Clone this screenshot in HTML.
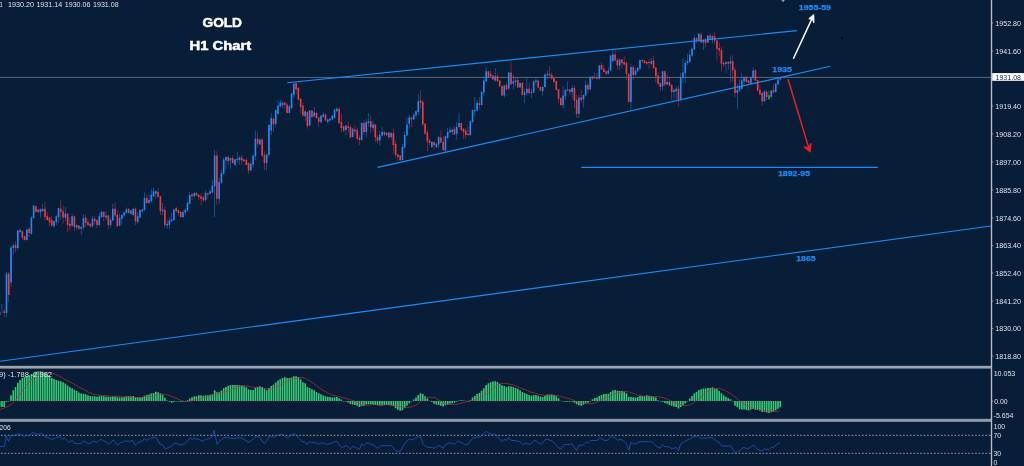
<!DOCTYPE html>
<html lang="en">
<head>
<meta charset="utf-8">
<title>GOLD H1 Chart</title>
<style>
html,body{margin:0;padding:0;background:#081d38;}
body{width:1024px;height:466px;overflow:hidden;font-family:"Liberation Sans",sans-serif;}
svg{display:block;}
</style>
</head>
<body>
<svg width="1024" height="466" viewBox="0 0 1024 466">
<rect width="1024" height="466" fill="#081d38"/>
<g id="priceline">
<rect x="0" y="76.9" width="991" height="1" fill="#5d667a"/>
</g>
<g id="candles">
<path d="M-0.59 311.88h0.6V315.00h-0.6zM6.20 271.88h0.6V317.25h-0.6zM10.72 245.62h0.6V286.88h-0.6zM12.99 243.12h0.6V254.38h-0.6zM17.51 230.00h0.6V250.00h-0.6zM19.78 228.75h0.6V233.75h-0.6zM26.56 228.75h0.6V240.25h-0.6zM31.09 216.25h0.6V234.38h-0.6zM33.35 205.00h0.6V218.75h-0.6zM40.14 208.50h0.6V218.12h-0.6zM42.40 203.75h0.6V211.88h-0.6zM53.71 220.62h0.6V228.12h-0.6zM55.98 215.00h0.6V225.00h-0.6zM58.24 207.50h0.6V223.12h-0.6zM65.03 206.88h0.6V221.25h-0.6zM71.81 213.75h0.6V226.88h-0.6zM76.34 224.38h0.6V230.00h-0.6zM80.86 226.25h0.6V235.00h-0.6zM83.12 213.75h0.6V230.00h-0.6zM92.17 216.25h0.6V227.50h-0.6zM98.96 213.12h0.6V226.25h-0.6zM101.23 210.62h0.6V218.12h-0.6zM105.75 211.25h0.6V220.00h-0.6zM110.28 217.50h0.6V227.50h-0.6zM112.54 203.75h0.6V221.25h-0.6zM119.33 213.75h0.6V226.25h-0.6zM121.59 214.38h0.6V224.38h-0.6zM123.85 211.25h0.6V216.88h-0.6zM126.11 207.50h0.6V213.75h-0.6zM130.64 210.00h0.6V214.38h-0.6zM132.90 208.12h0.6V215.62h-0.6zM137.42 212.50h0.6V223.75h-0.6zM139.69 209.38h0.6V218.12h-0.6zM141.95 208.75h0.6V213.12h-0.6zM144.21 192.50h0.6V211.25h-0.6zM148.74 195.00h0.6V203.75h-0.6zM151.00 188.75h0.6V202.50h-0.6zM153.26 187.50h0.6V196.88h-0.6zM155.53 190.00h0.6V198.75h-0.6zM162.31 203.12h0.6V215.00h-0.6zM166.84 220.00h0.6V228.75h-0.6zM169.10 217.50h0.6V228.75h-0.6zM171.36 213.12h0.6V221.88h-0.6zM173.62 208.75h0.6V221.25h-0.6zM182.67 210.00h0.6V218.12h-0.6zM184.94 208.12h0.6V215.00h-0.6zM187.20 201.25h0.6V211.88h-0.6zM189.46 191.88h0.6V204.38h-0.6zM193.99 191.88h0.6V197.50h-0.6zM205.30 190.62h0.6V201.88h-0.6zM209.82 188.75h0.6V194.38h-0.6zM212.09 179.38h0.6V193.12h-0.6zM214.35 150.00h0.6V216.88h-0.6zM218.88 177.50h0.6V203.75h-0.6zM221.14 170.00h0.6V183.75h-0.6zM223.40 157.50h0.6V174.38h-0.6zM225.66 156.25h0.6V170.00h-0.6zM230.19 157.50h0.6V168.75h-0.6zM234.71 158.75h0.6V165.62h-0.6zM236.97 151.88h0.6V162.50h-0.6zM239.24 156.25h0.6V164.38h-0.6zM250.55 161.25h0.6V171.25h-0.6zM252.81 155.00h0.6V167.50h-0.6zM255.08 130.62h0.6V160.00h-0.6zM259.60 138.75h0.6V145.00h-0.6zM266.39 153.75h0.6V170.62h-0.6zM268.65 124.38h0.6V156.88h-0.6zM270.91 113.12h0.6V135.00h-0.6zM275.44 109.38h0.6V127.50h-0.6zM277.70 100.00h0.6V115.00h-0.6zM279.96 100.00h0.6V108.12h-0.6zM282.23 100.62h0.6V108.12h-0.6zM289.01 105.00h0.6V113.75h-0.6zM291.28 93.12h0.6V109.38h-0.6zM293.54 83.12h0.6V98.12h-0.6zM304.85 110.62h0.6V121.25h-0.6zM309.38 110.00h0.6V126.25h-0.6zM313.90 106.88h0.6V116.88h-0.6zM320.69 115.00h0.6V123.75h-0.6zM322.95 111.88h0.6V117.50h-0.6zM327.48 118.75h0.6V123.12h-0.6zM329.74 118.12h0.6V121.25h-0.6zM332.00 115.00h0.6V120.00h-0.6zM334.26 108.75h0.6V118.75h-0.6zM336.53 106.88h0.6V111.88h-0.6zM345.58 125.00h0.6V135.00h-0.6zM352.36 128.12h0.6V137.50h-0.6zM361.41 122.50h0.6V140.62h-0.6zM365.94 118.75h0.6V137.50h-0.6zM368.20 113.12h0.6V126.88h-0.6zM372.73 121.25h0.6V131.25h-0.6zM379.51 131.25h0.6V145.62h-0.6zM381.78 126.88h0.6V136.25h-0.6zM386.30 131.88h0.6V136.25h-0.6zM390.83 131.88h0.6V139.38h-0.6zM402.14 143.75h0.6V160.62h-0.6zM404.40 131.88h0.6V148.12h-0.6zM406.66 117.50h0.6V136.25h-0.6zM408.93 115.00h0.6V129.38h-0.6zM413.45 113.12h0.6V120.00h-0.6zM415.71 110.00h0.6V117.50h-0.6zM417.98 94.38h0.6V115.00h-0.6zM431.55 141.25h0.6V148.12h-0.6zM436.08 143.12h0.6V148.12h-0.6zM438.34 136.25h0.6V148.12h-0.6zM445.13 135.62h0.6V151.88h-0.6zM447.39 128.12h0.6V138.75h-0.6zM449.65 126.88h0.6V133.12h-0.6zM451.91 128.75h0.6V135.00h-0.6zM456.44 122.50h0.6V139.38h-0.6zM458.70 113.12h0.6V127.50h-0.6zM470.01 120.62h0.6V136.25h-0.6zM472.28 109.38h0.6V123.12h-0.6zM474.54 96.88h0.6V116.25h-0.6zM476.80 100.00h0.6V111.25h-0.6zM481.33 91.25h0.6V105.62h-0.6zM483.59 76.25h0.6V95.62h-0.6zM485.85 67.50h0.6V81.88h-0.6zM494.90 68.12h0.6V81.88h-0.6zM503.95 85.00h0.6V97.50h-0.6zM508.48 71.88h0.6V89.38h-0.6zM513.00 74.38h0.6V89.38h-0.6zM515.26 78.12h0.6V86.25h-0.6zM519.79 82.50h0.6V88.12h-0.6zM524.31 88.75h0.6V103.00h-0.6zM526.58 77.50h0.6V95.62h-0.6zM531.10 88.75h0.6V98.12h-0.6zM533.36 80.62h0.6V93.12h-0.6zM535.63 77.50h0.6V85.00h-0.6zM542.41 86.25h0.6V95.62h-0.6zM544.68 73.75h0.6V87.50h-0.6zM546.94 70.62h0.6V79.38h-0.6zM562.78 86.25h0.6V108.12h-0.6zM565.04 89.38h0.6V100.00h-0.6zM567.30 81.25h0.6V91.25h-0.6zM571.83 85.00h0.6V98.12h-0.6zM578.61 94.38h0.6V118.00h-0.6zM583.14 94.38h0.6V107.50h-0.6zM585.40 80.62h0.6V96.25h-0.6zM589.93 76.25h0.6V90.62h-0.6zM594.45 72.50h0.6V78.75h-0.6zM598.98 65.00h0.6V79.38h-0.6zM608.03 66.88h0.6V74.38h-0.6zM610.29 55.00h0.6V71.25h-0.6zM612.55 50.62h0.6V61.88h-0.6zM619.34 58.75h0.6V70.00h-0.6zM630.65 63.75h0.6V110.00h-0.6zM635.18 68.12h0.6V75.62h-0.6zM637.44 66.25h0.6V72.50h-0.6zM639.70 59.38h0.6V70.00h-0.6zM651.01 58.12h0.6V64.38h-0.6zM662.33 70.62h0.6V90.00h-0.6zM666.85 73.75h0.6V85.00h-0.6zM673.64 88.12h0.6V98.75h-0.6zM675.90 86.25h0.6V99.38h-0.6zM680.43 73.12h0.6V100.62h-0.6zM682.69 58.12h0.6V83.12h-0.6zM684.95 60.00h0.6V83.12h-0.6zM687.21 53.75h0.6V65.00h-0.6zM689.48 50.00h0.6V62.50h-0.6zM691.74 48.12h0.6V56.88h-0.6zM694.00 35.00h0.6V50.00h-0.6zM698.53 33.12h0.6V42.50h-0.6zM703.05 39.38h0.6V50.00h-0.6zM707.58 35.00h0.6V43.12h-0.6zM712.10 35.00h0.6V43.12h-0.6zM725.68 61.25h0.6V73.12h-0.6zM730.20 56.25h0.6V82.50h-0.6zM736.99 83.75h0.6V108.75h-0.6zM739.25 79.38h0.6V91.88h-0.6zM741.51 72.50h0.6V89.38h-0.6zM743.78 76.25h0.6V84.38h-0.6zM750.56 76.88h0.6V84.38h-0.6zM752.83 67.50h0.6V79.38h-0.6zM764.14 90.62h0.6V101.88h-0.6zM770.93 90.00h0.6V97.50h-0.6zM775.45 83.12h0.6V92.50h-0.6zM777.71 78.75h0.6V85.00h-0.6zM779.98 76.88h0.6V80.62h-0.6z" fill="#2189f3" opacity="0.75"/>
<path d="M-1.11 311.88h1.64V315.00h-1.64zM5.68 273.75h1.64V313.12h-1.64zM10.21 247.50h1.64V282.50h-1.64zM12.47 245.62h1.64V248.12h-1.64zM16.99 230.62h1.64V248.12h-1.64zM19.26 230.00h1.64V231.88h-1.64zM26.04 229.38h1.64V240.00h-1.64zM30.57 217.50h1.64V233.75h-1.64zM32.83 205.62h1.64V218.12h-1.64zM39.62 209.00h1.64V211.88h-1.64zM41.88 208.75h1.64V211.25h-1.64zM53.19 221.25h1.64V226.25h-1.64zM55.46 216.25h1.64V221.88h-1.64zM57.72 208.12h1.64V216.88h-1.64zM64.51 213.75h1.64V217.50h-1.64zM71.29 216.25h1.64V225.62h-1.64zM75.82 225.00h1.64V227.50h-1.64zM80.34 226.88h1.64V228.75h-1.64zM82.61 218.12h1.64V227.50h-1.64zM91.66 218.75h1.64V226.25h-1.64zM98.44 216.25h1.64V225.00h-1.64zM100.71 211.88h1.64V216.88h-1.64zM105.23 215.62h1.64V217.50h-1.64zM109.76 220.00h1.64V225.00h-1.64zM112.02 208.75h1.64V220.62h-1.64zM118.81 218.12h1.64V225.62h-1.64zM121.07 215.00h1.64V218.75h-1.64zM123.33 212.50h1.64V215.62h-1.64zM125.59 209.38h1.64V213.12h-1.64zM130.12 210.62h1.64V213.75h-1.64zM132.38 208.75h1.64V215.00h-1.64zM136.91 216.25h1.64V221.88h-1.64zM139.17 210.00h1.64V217.50h-1.64zM141.43 209.38h1.64V211.25h-1.64zM143.69 198.12h1.64V210.00h-1.64zM148.22 200.00h1.64V203.12h-1.64zM150.48 194.38h1.64V201.25h-1.64zM152.74 191.25h1.64V196.25h-1.64zM155.01 191.25h1.64V193.75h-1.64zM161.79 209.38h1.64V211.25h-1.64zM166.32 223.75h1.64V225.62h-1.64zM168.58 220.62h1.64V225.00h-1.64zM170.84 219.38h1.64V221.25h-1.64zM173.11 209.38h1.64V220.00h-1.64zM182.16 211.88h1.64V216.88h-1.64zM184.42 210.00h1.64V212.50h-1.64zM186.68 203.12h1.64V210.62h-1.64zM188.94 195.00h1.64V203.75h-1.64zM193.47 193.12h1.64V196.25h-1.64zM204.78 193.12h1.64V200.00h-1.64zM209.31 191.25h1.64V193.75h-1.64zM211.57 185.62h1.64V192.50h-1.64zM213.83 155.62h1.64V186.25h-1.64zM218.36 181.88h1.64V198.75h-1.64zM220.62 173.12h1.64V182.50h-1.64zM222.88 159.38h1.64V173.75h-1.64zM225.14 156.88h1.64V160.62h-1.64zM229.67 158.12h1.64V160.62h-1.64zM234.19 159.38h1.64V165.00h-1.64zM236.46 158.75h1.64V160.00h-1.64zM238.72 157.50h1.64V160.00h-1.64zM250.03 163.75h1.64V170.62h-1.64zM252.29 155.62h1.64V164.38h-1.64zM254.56 138.75h1.64V156.25h-1.64zM259.08 139.38h1.64V144.38h-1.64zM265.87 154.38h1.64V163.12h-1.64zM268.13 125.00h1.64V155.00h-1.64zM270.39 118.12h1.64V130.62h-1.64zM274.92 110.00h1.64V123.75h-1.64zM277.18 105.62h1.64V113.75h-1.64zM279.44 102.50h1.64V106.25h-1.64zM281.71 103.12h1.64V105.62h-1.64zM288.49 106.25h1.64V113.12h-1.64zM290.76 93.75h1.64V108.12h-1.64zM293.02 83.75h1.64V95.00h-1.64zM304.33 111.25h1.64V116.25h-1.64zM308.86 110.62h1.64V125.62h-1.64zM313.38 112.50h1.64V116.25h-1.64zM320.17 115.62h1.64V121.88h-1.64zM322.43 114.38h1.64V116.88h-1.64zM326.96 119.38h1.64V121.88h-1.64zM329.22 118.75h1.64V120.62h-1.64zM331.48 115.62h1.64V119.38h-1.64zM333.74 109.38h1.64V118.12h-1.64zM336.01 108.75h1.64V111.25h-1.64zM345.06 125.62h1.64V130.00h-1.64zM351.84 128.75h1.64V136.88h-1.64zM360.89 123.12h1.64V140.00h-1.64zM365.42 121.88h1.64V131.88h-1.64zM367.68 121.25h1.64V123.12h-1.64zM372.21 124.38h1.64V128.12h-1.64zM378.99 135.00h1.64V140.62h-1.64zM381.26 131.88h1.64V135.62h-1.64zM385.78 133.12h1.64V135.00h-1.64zM390.31 133.12h1.64V136.88h-1.64zM401.62 146.88h1.64V160.00h-1.64zM403.88 135.00h1.64V147.50h-1.64zM406.14 124.38h1.64V135.62h-1.64zM408.41 117.50h1.64V123.75h-1.64zM412.93 115.00h1.64V119.38h-1.64zM415.19 111.25h1.64V115.62h-1.64zM417.46 101.25h1.64V111.88h-1.64zM431.03 141.88h1.64V146.88h-1.64zM435.56 143.75h1.64V146.88h-1.64zM437.82 136.88h1.64V144.38h-1.64zM444.61 136.25h1.64V150.62h-1.64zM446.87 131.88h1.64V138.12h-1.64zM449.13 130.00h1.64V132.50h-1.64zM451.39 129.38h1.64V131.88h-1.64zM455.92 126.88h1.64V133.75h-1.64zM458.18 123.12h1.64V126.88h-1.64zM469.49 121.25h1.64V135.00h-1.64zM471.76 110.00h1.64V121.88h-1.64zM474.02 110.00h1.64V111.25h-1.64zM476.28 103.12h1.64V110.62h-1.64zM480.81 91.88h1.64V105.00h-1.64zM483.07 80.62h1.64V92.50h-1.64zM485.33 71.25h1.64V81.25h-1.64zM494.38 76.25h1.64V80.62h-1.64zM503.43 85.62h1.64V95.62h-1.64zM507.96 72.50h1.64V88.75h-1.64zM512.48 81.25h1.64V83.75h-1.64zM514.74 80.62h1.64V81.88h-1.64zM519.27 83.12h1.64V87.50h-1.64zM523.79 92.50h1.64V95.00h-1.64zM526.06 88.75h1.64V93.12h-1.64zM530.58 91.88h1.64V93.12h-1.64zM532.84 81.25h1.64V92.50h-1.64zM535.11 80.62h1.64V81.88h-1.64zM541.89 86.88h1.64V91.25h-1.64zM544.15 74.38h1.64V86.88h-1.64zM546.42 73.75h1.64V75.00h-1.64zM562.25 95.62h1.64V105.00h-1.64zM564.52 90.00h1.64V96.25h-1.64zM566.78 89.38h1.64V90.62h-1.64zM571.31 88.12h1.64V91.88h-1.64zM578.09 97.50h1.64V113.75h-1.64zM582.62 95.00h1.64V99.38h-1.64zM584.88 85.00h1.64V95.62h-1.64zM589.40 76.88h1.64V89.38h-1.64zM593.93 76.88h1.64V78.12h-1.64zM598.46 65.62h1.64V78.75h-1.64zM607.50 70.62h1.64V73.75h-1.64zM609.77 55.62h1.64V70.62h-1.64zM612.03 54.38h1.64V61.25h-1.64zM618.82 59.38h1.64V65.62h-1.64zM630.13 66.88h1.64V101.88h-1.64zM634.65 70.62h1.64V75.00h-1.64zM636.92 68.12h1.64V71.25h-1.64zM639.18 60.00h1.64V68.75h-1.64zM650.49 61.25h1.64V63.75h-1.64zM661.81 71.25h1.64V86.25h-1.64zM666.33 81.88h1.64V84.38h-1.64zM673.12 90.00h1.64V91.88h-1.64zM675.38 88.75h1.64V91.25h-1.64zM679.90 77.50h1.64V99.38h-1.64zM682.17 72.50h1.64V78.12h-1.64zM684.43 63.12h1.64V73.12h-1.64zM686.69 61.25h1.64V63.12h-1.64zM688.96 55.00h1.64V61.88h-1.64zM691.22 48.75h1.64V55.62h-1.64zM693.48 38.12h1.64V49.38h-1.64zM698.00 33.75h1.64V40.00h-1.64zM702.53 40.00h1.64V42.50h-1.64zM707.06 35.62h1.64V42.50h-1.64zM711.58 36.25h1.64V39.38h-1.64zM725.15 61.88h1.64V63.75h-1.64zM729.68 61.25h1.64V63.75h-1.64zM736.47 90.00h1.64V93.12h-1.64zM738.73 86.25h1.64V90.62h-1.64zM740.99 80.62h1.64V88.75h-1.64zM743.25 76.88h1.64V81.25h-1.64zM750.04 77.50h1.64V83.75h-1.64zM752.31 70.62h1.64V78.12h-1.64zM763.62 91.25h1.64V101.25h-1.64zM770.41 90.62h1.64V96.88h-1.64zM774.93 83.75h1.64V91.88h-1.64zM777.19 79.38h1.64V84.38h-1.64zM779.46 77.50h1.64V79.38h-1.64z" fill="#2189f3"/>
<path d="M3.94 308.75h0.6V316.88h-0.6zM8.46 271.88h0.6V301.88h-0.6zM15.25 241.25h0.6V251.88h-0.6zM22.04 230.62h0.6V240.00h-0.6zM24.30 235.62h0.6V240.62h-0.6zM28.83 226.88h0.6V236.88h-0.6zM35.61 205.62h0.6V212.50h-0.6zM37.88 208.75h0.6V212.75h-0.6zM44.66 201.88h0.6V220.62h-0.6zM46.93 211.88h0.6V220.62h-0.6zM49.19 216.88h0.6V226.25h-0.6zM51.45 216.25h0.6V226.25h-0.6zM60.50 200.00h0.6V220.00h-0.6zM62.76 205.62h0.6V223.75h-0.6zM67.29 213.12h0.6V231.88h-0.6zM69.55 216.88h0.6V231.25h-0.6zM74.08 215.62h0.6V231.25h-0.6zM78.60 225.00h0.6V229.38h-0.6zM85.39 215.00h0.6V226.88h-0.6zM87.65 218.75h0.6V226.25h-0.6zM89.91 223.12h0.6V228.12h-0.6zM94.44 216.25h0.6V224.38h-0.6zM96.70 219.38h0.6V228.12h-0.6zM103.49 211.25h0.6V221.25h-0.6zM108.01 215.00h0.6V228.75h-0.6zM114.80 202.50h0.6V217.50h-0.6zM117.06 210.00h0.6V226.88h-0.6zM128.38 208.12h0.6V213.75h-0.6zM135.16 207.50h0.6V225.00h-0.6zM146.47 194.38h0.6V203.75h-0.6zM157.79 188.75h0.6V197.50h-0.6zM160.05 195.62h0.6V215.00h-0.6zM164.57 206.25h0.6V228.00h-0.6zM175.89 206.88h0.6V211.88h-0.6zM178.15 209.38h0.6V215.62h-0.6zM180.41 211.25h0.6V217.50h-0.6zM191.72 193.12h0.6V200.00h-0.6zM196.25 191.88h0.6V196.25h-0.6zM198.51 193.75h0.6V200.00h-0.6zM200.78 193.12h0.6V205.00h-0.6zM203.04 195.62h0.6V201.25h-0.6zM207.56 192.50h0.6V198.75h-0.6zM216.61 151.25h0.6V205.00h-0.6zM227.93 155.00h0.6V165.62h-0.6zM232.45 155.62h0.6V163.75h-0.6zM241.50 155.00h0.6V165.00h-0.6zM243.76 158.75h0.6V161.88h-0.6zM246.03 158.12h0.6V165.62h-0.6zM248.29 162.50h0.6V173.75h-0.6zM257.34 132.50h0.6V146.88h-0.6zM261.86 137.50h0.6V156.88h-0.6zM264.13 151.25h0.6V170.00h-0.6zM273.18 117.50h0.6V131.88h-0.6zM284.49 101.88h0.6V108.75h-0.6zM286.75 102.50h0.6V113.75h-0.6zM295.80 82.50h0.6V93.75h-0.6zM298.06 86.88h0.6V100.62h-0.6zM300.33 98.12h0.6V113.12h-0.6zM302.59 102.50h0.6V116.88h-0.6zM307.11 111.25h0.6V128.75h-0.6zM311.64 110.00h0.6V118.12h-0.6zM316.16 111.88h0.6V118.75h-0.6zM318.43 116.88h0.6V126.88h-0.6zM325.21 113.75h0.6V121.25h-0.6zM338.79 107.50h0.6V123.75h-0.6zM341.05 113.75h0.6V131.88h-0.6zM343.31 125.62h0.6V131.88h-0.6zM347.84 121.25h0.6V132.50h-0.6zM350.10 124.38h0.6V138.12h-0.6zM354.63 125.00h0.6V133.75h-0.6zM356.89 128.12h0.6V140.00h-0.6zM359.15 135.00h0.6V145.00h-0.6zM363.68 120.00h0.6V135.00h-0.6zM370.46 115.00h0.6V133.12h-0.6zM374.99 123.75h0.6V141.88h-0.6zM377.25 134.38h0.6V143.75h-0.6zM384.04 131.25h0.6V136.25h-0.6zM388.56 131.88h0.6V138.75h-0.6zM393.09 128.75h0.6V153.75h-0.6zM395.35 141.25h0.6V157.50h-0.6zM397.61 153.75h0.6V161.25h-0.6zM399.88 155.00h0.6V161.25h-0.6zM411.19 116.88h0.6V126.88h-0.6zM420.24 90.62h0.6V108.75h-0.6zM422.50 99.38h0.6V126.25h-0.6zM424.76 123.12h0.6V134.38h-0.6zM427.03 130.00h0.6V151.25h-0.6zM429.29 138.75h0.6V145.00h-0.6zM433.81 141.25h0.6V149.38h-0.6zM440.60 130.62h0.6V143.12h-0.6zM442.86 136.25h0.6V151.25h-0.6zM454.18 126.25h0.6V135.00h-0.6zM460.96 122.50h0.6V131.25h-0.6zM463.23 128.12h0.6V138.75h-0.6zM465.49 128.12h0.6V138.75h-0.6zM467.75 126.25h0.6V136.25h-0.6zM479.06 96.88h0.6V109.38h-0.6zM488.11 70.62h0.6V77.50h-0.6zM490.38 70.62h0.6V76.88h-0.6zM492.64 75.00h0.6V80.00h-0.6zM497.16 73.75h0.6V81.88h-0.6zM499.43 80.00h0.6V86.88h-0.6zM501.69 85.62h0.6V96.25h-0.6zM506.21 82.50h0.6V90.00h-0.6zM510.74 61.88h0.6V85.00h-0.6zM517.53 77.50h0.6V88.12h-0.6zM522.05 81.88h0.6V95.62h-0.6zM528.84 82.50h0.6V94.38h-0.6zM537.89 80.00h0.6V88.12h-0.6zM540.15 86.25h0.6V91.25h-0.6zM549.20 66.25h0.6V76.25h-0.6zM551.46 72.50h0.6V79.38h-0.6zM553.73 77.50h0.6V83.75h-0.6zM555.99 80.62h0.6V90.62h-0.6zM558.25 88.75h0.6V103.12h-0.6zM560.51 97.50h0.6V106.25h-0.6zM569.56 88.75h0.6V95.00h-0.6zM574.09 85.62h0.6V108.12h-0.6zM576.35 95.00h0.6V118.00h-0.6zM580.88 89.38h0.6V103.12h-0.6zM587.66 82.50h0.6V93.12h-0.6zM592.19 76.00h0.6V79.38h-0.6zM596.71 73.12h0.6V79.38h-0.6zM601.24 62.50h0.6V70.00h-0.6zM603.50 65.62h0.6V72.50h-0.6zM605.76 70.62h0.6V75.62h-0.6zM614.81 50.00h0.6V61.25h-0.6zM617.08 58.12h0.6V70.00h-0.6zM621.60 58.75h0.6V68.12h-0.6zM623.86 56.25h0.6V65.00h-0.6zM626.13 61.25h0.6V80.00h-0.6zM628.39 73.12h0.6V102.50h-0.6zM632.91 65.00h0.6V80.00h-0.6zM641.96 58.75h0.6V63.12h-0.6zM644.23 60.00h0.6V63.75h-0.6zM646.49 61.25h0.6V65.00h-0.6zM648.75 58.75h0.6V68.75h-0.6zM653.28 55.62h0.6V68.75h-0.6zM655.54 66.88h0.6V83.12h-0.6zM657.80 71.88h0.6V86.25h-0.6zM660.06 82.50h0.6V91.25h-0.6zM664.59 70.62h0.6V86.88h-0.6zM669.11 76.88h0.6V86.25h-0.6zM671.38 83.75h0.6V99.38h-0.6zM678.16 85.62h0.6V106.25h-0.6zM696.26 37.50h0.6V43.12h-0.6zM700.79 32.50h0.6V43.12h-0.6zM705.31 38.12h0.6V46.88h-0.6zM709.84 33.12h0.6V40.00h-0.6zM714.36 32.50h0.6V43.75h-0.6zM716.63 40.00h0.6V60.62h-0.6zM718.89 42.50h0.6V56.25h-0.6zM721.15 46.88h0.6V71.25h-0.6zM723.41 61.25h0.6V66.88h-0.6zM727.94 61.25h0.6V69.38h-0.6zM732.46 55.00h0.6V81.88h-0.6zM734.73 67.50h0.6V96.88h-0.6zM746.04 76.25h0.6V82.50h-0.6zM748.30 80.00h0.6V83.75h-0.6zM755.09 69.38h0.6V81.25h-0.6zM757.35 79.38h0.6V91.25h-0.6zM759.61 85.00h0.6V95.00h-0.6zM761.88 92.50h0.6V105.62h-0.6zM766.40 90.00h0.6V100.00h-0.6zM773.19 84.38h0.6V93.75h-0.6z" fill="#f3363f" opacity="0.75"/>
<path d="M3.42 311.25h1.64V313.12h-1.64zM7.94 273.75h1.64V295.00h-1.64zM14.73 245.00h1.64V248.12h-1.64zM21.52 231.25h1.64V237.50h-1.64zM23.78 236.25h1.64V240.00h-1.64zM28.31 228.75h1.64V233.12h-1.64zM35.09 206.25h1.64V211.88h-1.64zM37.36 209.38h1.64V212.25h-1.64zM44.14 208.75h1.64V216.88h-1.64zM46.41 216.25h1.64V220.00h-1.64zM48.67 217.50h1.64V222.50h-1.64zM50.93 220.00h1.64V225.62h-1.64zM59.98 208.75h1.64V211.88h-1.64zM62.24 211.25h1.64V217.50h-1.64zM66.77 213.75h1.64V225.00h-1.64zM69.03 223.75h1.64V226.25h-1.64zM73.56 216.25h1.64V226.88h-1.64zM78.08 225.62h1.64V228.75h-1.64zM84.87 217.50h1.64V223.12h-1.64zM87.13 221.88h1.64V225.00h-1.64zM89.39 223.75h1.64V226.25h-1.64zM93.92 218.75h1.64V221.25h-1.64zM96.18 220.00h1.64V225.00h-1.64zM102.97 211.88h1.64V216.88h-1.64zM107.49 215.62h1.64V225.00h-1.64zM114.28 208.75h1.64V215.62h-1.64zM116.54 215.00h1.64V226.25h-1.64zM127.86 208.75h1.64V213.12h-1.64zM134.64 208.75h1.64V221.25h-1.64zM145.96 198.12h1.64V203.12h-1.64zM157.27 191.88h1.64V196.88h-1.64zM159.53 196.25h1.64V211.25h-1.64zM164.06 210.00h1.64V225.00h-1.64zM175.37 208.12h1.64V211.25h-1.64zM177.63 210.00h1.64V213.12h-1.64zM179.89 211.88h1.64V216.88h-1.64zM191.21 194.38h1.64V196.25h-1.64zM195.73 193.12h1.64V195.62h-1.64zM197.99 195.00h1.64V196.88h-1.64zM200.26 196.25h1.64V198.75h-1.64zM202.52 197.50h1.64V200.62h-1.64zM207.04 192.88h1.64V194.38h-1.64zM216.09 155.62h1.64V198.75h-1.64zM227.41 156.88h1.64V161.25h-1.64zM231.93 158.12h1.64V163.12h-1.64zM240.98 157.50h1.64V160.62h-1.64zM243.24 159.38h1.64V161.25h-1.64zM245.51 160.00h1.64V165.00h-1.64zM247.77 163.12h1.64V170.62h-1.64zM256.82 138.75h1.64V143.75h-1.64zM261.34 139.38h1.64V155.62h-1.64zM263.61 155.00h1.64V163.12h-1.64zM272.66 118.75h1.64V124.38h-1.64zM283.97 102.50h1.64V105.00h-1.64zM286.23 104.38h1.64V113.12h-1.64zM295.28 83.12h1.64V89.38h-1.64zM297.54 88.12h1.64V99.38h-1.64zM299.81 98.75h1.64V106.88h-1.64zM302.07 105.62h1.64V115.62h-1.64zM306.59 111.88h1.64V126.25h-1.64zM311.12 110.62h1.64V116.88h-1.64zM315.64 113.12h1.64V118.12h-1.64zM317.91 117.50h1.64V121.88h-1.64zM324.69 114.38h1.64V120.62h-1.64zM338.27 108.75h1.64V123.12h-1.64zM340.53 121.88h1.64V128.12h-1.64zM342.79 126.25h1.64V130.62h-1.64zM347.32 126.25h1.64V128.12h-1.64zM349.58 126.88h1.64V137.50h-1.64zM354.11 129.38h1.64V131.25h-1.64zM356.37 130.00h1.64V138.75h-1.64zM358.63 137.50h1.64V140.00h-1.64zM363.16 123.12h1.64V131.88h-1.64zM369.94 121.25h1.64V127.50h-1.64zM374.47 124.38h1.64V137.50h-1.64zM376.73 136.88h1.64V140.62h-1.64zM383.52 131.88h1.64V134.38h-1.64zM388.04 132.50h1.64V137.50h-1.64zM392.57 133.12h1.64V145.00h-1.64zM394.83 143.75h1.64V155.00h-1.64zM397.09 154.38h1.64V156.88h-1.64zM399.36 155.62h1.64V160.00h-1.64zM410.67 117.50h1.64V119.38h-1.64zM419.72 100.62h1.64V103.12h-1.64zM421.98 101.88h1.64V124.38h-1.64zM424.24 123.75h1.64V133.75h-1.64zM426.51 132.50h1.64V141.25h-1.64zM428.77 140.62h1.64V143.12h-1.64zM433.29 141.88h1.64V145.00h-1.64zM440.08 137.50h1.64V142.50h-1.64zM442.34 141.88h1.64V150.00h-1.64zM453.66 128.75h1.64V134.38h-1.64zM460.44 123.12h1.64V130.00h-1.64zM462.71 128.75h1.64V131.88h-1.64zM464.97 130.62h1.64V135.00h-1.64zM467.23 133.75h1.64V135.00h-1.64zM478.54 103.12h1.64V105.00h-1.64zM487.59 71.25h1.64V76.88h-1.64zM489.86 73.75h1.64V76.25h-1.64zM492.12 75.62h1.64V79.38h-1.64zM496.64 76.25h1.64V81.25h-1.64zM498.91 80.62h1.64V86.25h-1.64zM501.17 86.25h1.64V95.62h-1.64zM505.69 85.00h1.64V89.38h-1.64zM510.22 72.50h1.64V84.38h-1.64zM517.00 80.00h1.64V87.50h-1.64zM521.53 83.12h1.64V95.00h-1.64zM528.32 88.75h1.64V93.12h-1.64zM537.37 80.62h1.64V87.50h-1.64zM539.63 86.88h1.64V90.62h-1.64zM548.68 73.75h1.64V75.62h-1.64zM550.94 75.00h1.64V78.75h-1.64zM553.21 78.12h1.64V81.88h-1.64zM555.47 81.25h1.64V90.00h-1.64zM557.73 89.38h1.64V98.75h-1.64zM559.99 98.12h1.64V105.00h-1.64zM569.04 89.38h1.64V91.88h-1.64zM573.57 88.12h1.64V100.62h-1.64zM575.83 100.00h1.64V113.75h-1.64zM580.36 97.50h1.64V100.00h-1.64zM587.14 85.00h1.64V89.38h-1.64zM591.67 76.62h1.64V78.75h-1.64zM596.19 76.88h1.64V78.75h-1.64zM600.72 65.00h1.64V69.38h-1.64zM602.98 68.75h1.64V71.88h-1.64zM605.24 71.25h1.64V73.75h-1.64zM614.29 54.38h1.64V60.62h-1.64zM616.56 60.00h1.64V65.62h-1.64zM621.08 59.38h1.64V63.12h-1.64zM623.34 61.88h1.64V64.38h-1.64zM625.61 63.12h1.64V73.75h-1.64zM627.87 73.75h1.64V101.88h-1.64zM632.39 66.88h1.64V75.00h-1.64zM641.44 60.00h1.64V61.25h-1.64zM643.71 60.62h1.64V63.12h-1.64zM645.97 61.88h1.64V63.75h-1.64zM648.23 61.88h1.64V63.12h-1.64zM652.75 60.62h1.64V68.12h-1.64zM655.02 67.50h1.64V76.25h-1.64zM657.28 75.62h1.64V83.75h-1.64zM659.54 83.12h1.64V86.88h-1.64zM664.07 71.25h1.64V84.38h-1.64zM668.59 81.88h1.64V85.62h-1.64zM670.86 85.00h1.64V91.88h-1.64zM677.64 88.75h1.64V99.38h-1.64zM695.74 38.12h1.64V40.62h-1.64zM700.27 34.38h1.64V42.50h-1.64zM704.79 40.00h1.64V43.12h-1.64zM709.32 35.62h1.64V38.75h-1.64zM713.84 36.25h1.64V40.62h-1.64zM716.11 40.62h1.64V48.75h-1.64zM718.37 48.12h1.64V50.62h-1.64zM720.63 50.00h1.64V63.75h-1.64zM722.89 63.12h1.64V64.38h-1.64zM727.42 61.88h1.64V63.75h-1.64zM731.94 61.25h1.64V70.62h-1.64zM734.21 70.00h1.64V93.12h-1.64zM745.52 76.88h1.64V81.88h-1.64zM747.78 80.62h1.64V83.12h-1.64zM754.57 70.00h1.64V80.62h-1.64zM756.83 80.00h1.64V90.62h-1.64zM759.09 90.00h1.64V94.38h-1.64zM761.36 93.12h1.64V101.25h-1.64zM765.88 91.88h1.64V96.88h-1.64zM772.67 90.00h1.64V92.50h-1.64z" fill="#f3363f"/>
<path d="M768.66 90.62h0.6V100.00h-0.6z" fill="#18b818" opacity="0.75"/>
<path d="M768.14 95.25h1.64V99.00h-1.64z" fill="#18b818"/>
<path d="M1.68 303.75h0.6V312.75h-0.6z" fill="#2189f3" opacity="0.75"/>
</g>
<g id="macd">
<path d="M-1.11 401.10h1.64V407.12h-1.64zM1.16 401.10h1.64V407.12h-1.64zM3.42 401.10h1.64V407.12h-1.64zM5.68 401.10h1.64V402.12h-1.64zM7.94 401.10h1.64V401.47h-1.64zM10.21 395.19h1.64V401.10h-1.64zM12.47 390.20h1.64V401.10h-1.64zM14.73 387.03h1.64V401.10h-1.64zM16.99 382.67h1.64V401.10h-1.64zM19.26 379.93h1.64V401.10h-1.64zM21.52 377.97h1.64V401.10h-1.64zM23.78 377.09h1.64V401.10h-1.64zM26.04 376.20h1.64V401.10h-1.64zM28.31 375.18h1.64V401.10h-1.64zM30.57 373.94h1.64V401.10h-1.64zM32.83 372.92h1.64V401.10h-1.64zM35.09 371.71h1.64V401.10h-1.64zM37.36 371.25h1.64V401.10h-1.64zM39.62 371.29h1.64V401.10h-1.64zM41.88 371.82h1.64V401.10h-1.64zM44.14 372.64h1.64V401.10h-1.64zM46.41 374.19h1.64V401.10h-1.64zM48.67 376.07h1.64V401.10h-1.64zM50.93 377.88h1.64V401.10h-1.64zM53.19 379.06h1.64V401.10h-1.64zM55.46 380.04h1.64V401.10h-1.64zM57.72 380.67h1.64V401.10h-1.64zM59.98 381.32h1.64V401.10h-1.64zM62.24 382.23h1.64V401.10h-1.64zM64.51 383.54h1.64V401.10h-1.64zM66.77 385.43h1.64V401.10h-1.64zM69.03 387.21h1.64V401.10h-1.64zM71.29 388.17h1.64V401.10h-1.64zM73.56 389.76h1.64V401.10h-1.64zM75.82 391.06h1.64V401.10h-1.64zM78.08 392.61h1.64V401.10h-1.64zM80.34 393.42h1.64V401.10h-1.64zM82.61 393.82h1.64V401.10h-1.64zM84.87 394.35h1.64V401.10h-1.64zM87.13 395.13h1.64V401.10h-1.64zM89.39 395.91h1.64V401.10h-1.64zM91.66 396.14h1.64V401.10h-1.64zM93.92 396.33h1.64V401.10h-1.64zM96.18 396.69h1.64V401.10h-1.64zM98.44 396.21h1.64V401.10h-1.64zM100.71 395.91h1.64V401.10h-1.64zM102.97 396.20h1.64V401.10h-1.64zM105.23 396.75h1.64V401.10h-1.64zM107.49 396.80h1.64V401.10h-1.64zM109.76 397.03h1.64V401.10h-1.64zM112.02 396.50h1.64V401.10h-1.64zM114.28 396.60h1.64V401.10h-1.64zM116.54 397.19h1.64V401.10h-1.64zM118.81 397.50h1.64V401.10h-1.64zM121.07 397.44h1.64V401.10h-1.64zM123.33 396.97h1.64V401.10h-1.64zM125.59 396.25h1.64V401.10h-1.64zM127.86 396.25h1.64V401.10h-1.64zM130.12 396.21h1.64V401.10h-1.64zM132.38 396.09h1.64V401.10h-1.64zM134.64 397.11h1.64V401.10h-1.64zM136.91 397.46h1.64V401.10h-1.64zM139.17 397.50h1.64V401.10h-1.64zM141.43 397.24h1.64V401.10h-1.64zM143.69 395.78h1.64V401.10h-1.64zM145.96 394.99h1.64V401.10h-1.64zM148.22 394.43h1.64V401.10h-1.64zM150.48 393.56h1.64V401.10h-1.64zM152.74 393.01h1.64V401.10h-1.64zM155.01 391.80h1.64V401.10h-1.64zM157.27 392.17h1.64V401.10h-1.64zM159.53 393.30h1.64V401.10h-1.64zM161.79 394.75h1.64V401.10h-1.64zM164.06 397.75h1.64V401.10h-1.64zM166.32 400.46h1.64V401.10h-1.64zM168.58 401.10h1.64V401.64h-1.64zM170.84 401.10h1.64V402.71h-1.64zM173.11 401.10h1.64V401.88h-1.64zM175.37 401.10h1.64V401.62h-1.64zM177.63 401.10h1.64V401.53h-1.64zM179.89 401.10h1.64V401.68h-1.64zM182.16 401.10h1.64V401.63h-1.64zM184.42 401.10h1.64V401.45h-1.64zM186.68 400.18h1.64V401.10h-1.64zM188.94 398.45h1.64V401.10h-1.64zM191.21 397.36h1.64V401.10h-1.64zM193.47 396.25h1.64V401.10h-1.64zM195.73 396.25h1.64V401.10h-1.64zM197.99 395.22h1.64V401.10h-1.64zM200.26 395.24h1.64V401.10h-1.64zM202.52 395.79h1.64V401.10h-1.64zM204.78 395.25h1.64V401.10h-1.64zM207.04 395.25h1.64V401.10h-1.64zM209.31 394.72h1.64V401.10h-1.64zM211.57 394.15h1.64V401.10h-1.64zM213.83 390.14h1.64V401.10h-1.64zM216.09 392.16h1.64V401.10h-1.64zM218.36 392.14h1.64V401.10h-1.64zM220.62 390.56h1.64V401.10h-1.64zM222.88 388.32h1.64V401.10h-1.64zM225.14 386.89h1.64V401.10h-1.64zM227.41 385.80h1.64V401.10h-1.64zM229.67 385.00h1.64V401.10h-1.64zM231.93 385.00h1.64V401.10h-1.64zM234.19 385.00h1.64V401.10h-1.64zM236.46 385.00h1.64V401.10h-1.64zM238.72 385.15h1.64V401.10h-1.64zM240.98 385.77h1.64V401.10h-1.64zM243.24 386.36h1.64V401.10h-1.64zM245.51 387.33h1.64V401.10h-1.64zM247.77 389.22h1.64V401.10h-1.64zM250.03 389.92h1.64V401.10h-1.64zM252.29 389.90h1.64V401.10h-1.64zM254.56 388.10h1.64V401.10h-1.64zM256.82 386.66h1.64V401.10h-1.64zM259.08 386.30h1.64V401.10h-1.64zM261.34 387.09h1.64V401.10h-1.64zM263.61 388.76h1.64V401.10h-1.64zM265.87 390.19h1.64V401.10h-1.64zM268.13 387.99h1.64V401.10h-1.64zM270.39 386.11h1.64V401.10h-1.64zM272.66 384.64h1.64V401.10h-1.64zM274.92 382.39h1.64V401.10h-1.64zM277.18 380.44h1.64V401.10h-1.64zM279.44 379.31h1.64V401.10h-1.64zM281.71 377.90h1.64V401.10h-1.64zM283.97 377.14h1.64V401.10h-1.64zM286.23 377.93h1.64V401.10h-1.64zM288.49 378.00h1.64V401.10h-1.64zM290.76 377.51h1.64V401.10h-1.64zM293.02 376.25h1.64V401.10h-1.64zM295.28 376.29h1.64V401.10h-1.64zM297.54 377.08h1.64V401.10h-1.64zM299.81 379.31h1.64V401.10h-1.64zM302.07 382.13h1.64V401.10h-1.64zM304.33 383.26h1.64V401.10h-1.64zM306.59 386.96h1.64V401.10h-1.64zM308.86 388.09h1.64V401.10h-1.64zM311.12 389.22h1.64V401.10h-1.64zM313.38 390.31h1.64V401.10h-1.64zM315.64 392.00h1.64V401.10h-1.64zM317.91 393.18h1.64V401.10h-1.64zM320.17 394.24h1.64V401.10h-1.64zM322.43 395.15h1.64V401.10h-1.64zM324.69 396.28h1.64V401.10h-1.64zM326.96 396.73h1.64V401.10h-1.64zM329.22 397.07h1.64V401.10h-1.64zM331.48 397.49h1.64V401.10h-1.64zM333.74 397.15h1.64V401.10h-1.64zM336.01 397.12h1.64V401.10h-1.64zM338.27 398.35h1.64V401.10h-1.64zM340.53 399.49h1.64V401.10h-1.64zM342.79 401.10h1.64V401.45h-1.64zM345.06 401.10h1.64V401.49h-1.64zM347.32 401.10h1.64V402.57h-1.64zM349.58 401.10h1.64V404.01h-1.64zM351.84 401.10h1.64V404.57h-1.64zM354.11 401.10h1.64V405.06h-1.64zM356.37 401.10h1.64V405.85h-1.64zM358.63 401.10h1.64V406.96h-1.64zM360.89 401.10h1.64V405.88h-1.64zM363.16 401.10h1.64V405.64h-1.64zM365.42 401.10h1.64V404.59h-1.64zM367.68 401.10h1.64V404.25h-1.64zM369.94 401.10h1.64V404.25h-1.64zM372.21 401.10h1.64V404.55h-1.64zM374.47 401.10h1.64V404.89h-1.64zM376.73 401.10h1.64V405.16h-1.64zM378.99 401.10h1.64V405.38h-1.64zM381.26 401.10h1.64V405.41h-1.64zM383.52 401.10h1.64V405.22h-1.64zM385.78 401.10h1.64V405.01h-1.64zM388.04 401.10h1.64V405.24h-1.64zM390.31 401.10h1.64V405.46h-1.64zM392.57 401.10h1.64V405.89h-1.64zM394.83 401.10h1.64V408.27h-1.64zM397.09 401.10h1.64V409.76h-1.64zM399.36 401.10h1.64V410.79h-1.64zM401.62 401.10h1.64V410.15h-1.64zM403.88 401.10h1.64V407.91h-1.64zM406.14 401.10h1.64V405.67h-1.64zM408.41 401.10h1.64V403.15h-1.64zM410.67 401.10h1.64V401.51h-1.64zM412.93 399.62h1.64V401.10h-1.64zM415.19 397.58h1.64V401.10h-1.64zM417.46 395.00h1.64V401.10h-1.64zM419.72 393.23h1.64V401.10h-1.64zM421.98 394.05h1.64V401.10h-1.64zM424.24 396.31h1.64V401.10h-1.64zM426.51 398.61h1.64V401.10h-1.64zM428.77 400.75h1.64V401.10h-1.64zM431.03 401.10h1.64V402.03h-1.64zM433.29 401.10h1.64V403.79h-1.64zM435.56 401.10h1.64V404.58h-1.64zM437.82 401.10h1.64V404.95h-1.64zM440.08 401.10h1.64V405.67h-1.64zM442.34 401.10h1.64V406.43h-1.64zM444.61 401.10h1.64V405.19h-1.64zM446.87 401.10h1.64V404.43h-1.64zM449.13 401.10h1.64V403.70h-1.64zM451.39 401.10h1.64V403.35h-1.64zM453.66 401.10h1.64V402.79h-1.64zM455.92 401.10h1.64V401.69h-1.64zM458.18 400.62h1.64V401.10h-1.64zM460.44 400.29h1.64V401.10h-1.64zM462.71 400.45h1.64V401.10h-1.64zM464.97 400.75h1.64V401.10h-1.64zM467.23 401.10h1.64V401.45h-1.64zM469.49 400.17h1.64V401.10h-1.64zM471.76 397.48h1.64V401.10h-1.64zM474.02 396.06h1.64V401.10h-1.64zM476.28 394.02h1.64V401.10h-1.64zM478.54 393.10h1.64V401.10h-1.64zM480.81 390.74h1.64V401.10h-1.64zM483.07 388.25h1.64V401.10h-1.64zM485.33 385.04h1.64V401.10h-1.64zM487.59 383.36h1.64V401.10h-1.64zM489.86 382.22h1.64V401.10h-1.64zM492.12 381.61h1.64V401.10h-1.64zM494.38 381.13h1.64V401.10h-1.64zM496.64 382.01h1.64V401.10h-1.64zM498.91 384.05h1.64V401.10h-1.64zM501.17 385.18h1.64V401.10h-1.64zM503.43 386.10h1.64V401.10h-1.64zM505.69 387.12h1.64V401.10h-1.64zM507.96 386.33h1.64V401.10h-1.64zM510.22 386.59h1.64V401.10h-1.64zM512.48 387.01h1.64V401.10h-1.64zM514.74 387.91h1.64V401.10h-1.64zM517.00 388.83h1.64V401.10h-1.64zM519.27 390.23h1.64V401.10h-1.64zM521.53 391.92h1.64V401.10h-1.64zM523.79 393.05h1.64V401.10h-1.64zM526.06 393.95h1.64V401.10h-1.64zM528.32 395.07h1.64V401.10h-1.64zM530.58 395.87h1.64V401.10h-1.64zM532.84 395.07h1.64V401.10h-1.64zM535.11 395.00h1.64V401.10h-1.64zM537.37 395.85h1.64V401.10h-1.64zM539.63 396.43h1.64V401.10h-1.64zM541.89 397.08h1.64V401.10h-1.64zM544.15 395.95h1.64V401.10h-1.64zM546.42 394.62h1.64V401.10h-1.64zM548.68 394.62h1.64V401.10h-1.64zM550.94 394.40h1.64V401.10h-1.64zM553.21 395.08h1.64V401.10h-1.64zM555.47 396.20h1.64V401.10h-1.64zM557.73 398.15h1.64V401.10h-1.64zM559.99 400.71h1.64V401.10h-1.64zM562.25 401.10h1.64V401.61h-1.64zM564.52 401.10h1.64V401.75h-1.64zM566.78 401.10h1.64V401.75h-1.64zM569.04 401.10h1.64V401.75h-1.64zM571.31 401.10h1.64V401.78h-1.64zM573.57 401.10h1.64V402.64h-1.64zM575.83 401.10h1.64V404.36h-1.64zM578.09 401.10h1.64V405.23h-1.64zM580.36 401.10h1.64V405.73h-1.64zM582.62 401.10h1.64V404.85h-1.64zM584.88 401.10h1.64V403.04h-1.64zM587.14 401.10h1.64V402.78h-1.64zM589.40 401.10h1.64V401.47h-1.64zM591.67 399.23h1.64V401.10h-1.64zM593.93 397.95h1.64V401.10h-1.64zM596.19 397.49h1.64V401.10h-1.64zM598.46 396.02h1.64V401.10h-1.64zM600.72 394.94h1.64V401.10h-1.64zM602.98 394.03h1.64V401.10h-1.64zM605.24 394.00h1.64V401.10h-1.64zM607.50 393.69h1.64V401.10h-1.64zM609.77 391.88h1.64V401.10h-1.64zM612.03 390.56h1.64V401.10h-1.64zM614.29 389.88h1.64V401.10h-1.64zM616.56 390.66h1.64V401.10h-1.64zM618.82 390.88h1.64V401.10h-1.64zM621.08 390.88h1.64V401.10h-1.64zM623.34 391.42h1.64V401.10h-1.64zM625.61 393.15h1.64V401.10h-1.64zM627.87 396.96h1.64V401.10h-1.64zM630.13 397.12h1.64V401.10h-1.64zM632.39 397.37h1.64V401.10h-1.64zM634.65 397.50h1.64V401.10h-1.64zM636.92 396.90h1.64V401.10h-1.64zM639.18 395.88h1.64V401.10h-1.64zM641.44 396.21h1.64V401.10h-1.64zM643.71 396.25h1.64V401.10h-1.64zM645.97 395.30h1.64V401.10h-1.64zM648.23 395.79h1.64V401.10h-1.64zM650.49 396.36h1.64V401.10h-1.64zM652.75 396.73h1.64V401.10h-1.64zM655.02 397.59h1.64V401.10h-1.64zM657.28 400.22h1.64V401.10h-1.64zM659.54 401.10h1.64V401.45h-1.64zM661.81 401.10h1.64V402.00h-1.64zM664.07 401.10h1.64V402.95h-1.64zM666.33 401.10h1.64V403.86h-1.64zM668.59 401.10h1.64V404.96h-1.64zM670.86 401.10h1.64V405.81h-1.64zM673.12 401.10h1.64V406.39h-1.64zM675.38 401.10h1.64V407.11h-1.64zM677.64 401.10h1.64V408.56h-1.64zM679.90 401.10h1.64V407.06h-1.64zM682.17 401.10h1.64V405.59h-1.64zM684.43 401.10h1.64V403.45h-1.64zM686.69 401.10h1.64V401.45h-1.64zM688.96 398.56h1.64V401.10h-1.64zM691.22 396.05h1.64V401.10h-1.64zM693.48 393.59h1.64V401.10h-1.64zM695.74 391.81h1.64V401.10h-1.64zM698.00 389.97h1.64V401.10h-1.64zM700.27 389.13h1.64V401.10h-1.64zM702.53 388.60h1.64V401.10h-1.64zM704.79 388.38h1.64V401.10h-1.64zM707.06 388.04h1.64V401.10h-1.64zM709.32 387.95h1.64V401.10h-1.64zM711.58 387.16h1.64V401.10h-1.64zM713.84 388.45h1.64V401.10h-1.64zM716.11 389.04h1.64V401.10h-1.64zM718.37 390.73h1.64V401.10h-1.64zM720.63 393.18h1.64V401.10h-1.64zM722.89 395.22h1.64V401.10h-1.64zM725.15 396.93h1.64V401.10h-1.64zM727.42 398.06h1.64V401.10h-1.64zM729.68 399.19h1.64V401.10h-1.64zM731.94 401.10h1.64V401.49h-1.64zM734.21 401.10h1.64V405.68h-1.64zM736.47 401.10h1.64V407.33h-1.64zM738.73 401.10h1.64V409.28h-1.64zM740.99 401.10h1.64V409.62h-1.64zM743.25 401.10h1.64V409.62h-1.64zM745.52 401.10h1.64V410.02h-1.64zM747.78 401.10h1.64V410.47h-1.64zM750.04 401.10h1.64V409.57h-1.64zM752.31 401.10h1.64V409.00h-1.64zM754.57 401.10h1.64V409.68h-1.64zM756.83 401.10h1.64V410.03h-1.64zM759.09 401.10h1.64V410.48h-1.64zM761.36 401.10h1.64V412.08h-1.64zM763.62 401.10h1.64V411.78h-1.64zM765.88 401.10h1.64V412.62h-1.64zM768.14 401.10h1.64V412.89h-1.64zM770.41 401.10h1.64V412.26h-1.64zM772.67 401.10h1.64V411.40h-1.64zM774.93 401.10h1.64V410.37h-1.64zM777.19 401.10h1.64V408.87h-1.64zM779.46 401.10h1.64V407.36h-1.64z" fill="#35c873"/>
<polyline points="0.0,409.62 5.0,407.75 10.0,405.25 15.0,400.88 20.0,394.00 25.0,387.12 30.0,380.88 35.0,376.50 40.0,374.00 45.0,372.50 50.0,372.50 55.0,374.00 60.0,376.50 65.0,379.62 70.0,382.12 75.0,384.62 80.0,387.75 85.0,390.25 90.0,393.00 95.0,394.62 100.0,395.25 105.0,395.50 110.0,396.25 115.0,396.25 120.0,396.50 125.0,397.12 128.0,397.50 133.0,397.50 138.0,397.50 143.0,397.50 144.2,396.50 148.0,396.50 153.0,396.25 158.0,394.62 163.0,394.25 165.5,394.25 168.0,395.00 171.8,396.50 175.5,398.00 179.2,399.62 183.0,401.12 185.5,401.50 189.2,401.50 193.0,400.50 198.0,399.62 203.0,397.75 208.0,396.50 213.0,395.00 218.0,394.00 223.0,392.50 228.0,390.88 233.0,388.75 238.0,387.12 241.8,385.50 245.5,385.50 248.0,386.25 251.8,387.12 256.0,387.50 259.8,387.50 263.5,388.38 267.2,388.75 271.0,388.38 274.8,387.12 278.5,385.50 282.2,384.00 286.0,381.75 289.8,380.00 293.5,378.75 297.2,378.00 301.0,377.50 303.5,377.75 306.0,378.75 309.8,380.88 313.5,383.38 317.2,386.25 321.0,389.00 324.8,391.25 328.5,393.38 332.2,395.00 336.0,395.88 339.8,396.75 343.5,397.75 347.2,398.75 351.0,400.00 354.8,401.25 358.5,403.00 362.2,404.25 366.0,404.75 368.5,405.25 372.2,404.25 376.0,404.62 379.8,404.75 384.0,404.62 387.8,404.62 391.5,404.62 395.2,405.50 399.0,406.50 402.8,407.12 406.5,407.75 410.2,407.12 414.0,405.88 417.8,404.00 421.5,400.88 425.2,398.38 427.8,397.38 431.5,397.38 434.0,397.38 436.5,398.38 440.2,400.88 444.0,403.00 447.8,404.25 451.5,404.62 455.2,404.62 459.0,403.75 462.8,402.75 466.5,401.75 470.2,400.88 474.0,400.00 477.8,398.75 481.5,397.12 485.2,394.62 489.0,391.75 492.8,388.75 496.5,385.88 499.6,383.62 502.8,383.38 506.5,383.38 509.0,384.00 512.0,384.62 515.8,385.88 519.5,387.50 523.2,389.00 527.0,390.50 530.8,392.12 534.5,393.00 538.2,394.25 542.0,395.00 545.8,395.50 549.5,395.50 553.2,395.25 557.0,395.50 560.8,396.50 564.5,397.50 568.2,398.38 572.0,399.62 575.8,401.25 579.5,402.50 583.2,403.38 587.0,403.75 590.8,403.75 594.5,403.00 598.2,401.50 602.0,399.62 605.8,397.75 609.5,395.88 613.2,394.25 617.0,393.00 620.8,392.50 624.5,391.75 627.0,391.50 630.8,392.50 634.5,393.75 638.2,395.25 640.0,395.25 643.8,396.25 647.5,396.50 651.2,396.50 655.0,396.50 658.8,396.75 662.5,397.50 666.2,398.75 670.0,400.50 673.8,402.12 677.5,403.75 681.2,405.00 685.0,405.62 688.8,405.25 692.5,403.75 696.2,400.88 700.0,397.75 703.8,394.62 707.5,391.75 711.2,389.62 715.0,388.38 718.8,388.38 722.5,389.38 726.2,391.12 730.0,393.38 733.8,395.88 737.5,399.00 741.2,402.12 745.0,404.62 748.8,406.50 752.5,408.00 756.2,409.25 760.0,410.00 763.8,410.50 768.0,411.25 770.0,411.25 775.0,411.50 778.1,411.50 779.8,410.50" fill="none" stroke="#c4303a" stroke-width="0.65" stroke-linejoin="round"/>
</g>
<g id="rsi">
<path d="M0 435.3H991M0 453.3H991" stroke="#b4b9c1" stroke-width="0.8" stroke-dasharray="1.7 1.73" stroke-dashoffset="-1" fill="none"/>
<polyline points="0.0,446.50 4.4,446.50 6.2,436.12 8.5,441.50 11.2,435.25 15.0,435.25 18.8,433.62 21.9,434.88 24.4,436.50 26.2,435.25 29.4,435.25 33.1,432.38 36.2,434.00 38.1,434.25 41.2,433.38 43.1,434.25 45.0,436.75 48.8,438.00 51.9,439.50 55.6,438.00 59.4,436.50 62.5,439.00 65.0,438.25 68.1,441.75 69.4,442.38 72.2,440.25 74.4,443.25 77.5,443.62 81.2,443.62 83.5,440.88 86.9,443.00 90.0,443.62 93.1,441.12 96.9,442.38 101.0,439.25 103.8,441.12 106.2,441.75 108.5,444.62 110.6,443.00 113.1,439.88 115.0,441.75 117.5,445.25 120.6,442.75 123.1,441.75 125.6,440.75 128.0,441.50 130.5,441.12 132.8,440.50 135.2,445.25 138.0,442.75 140.5,441.50 142.4,441.12 144.2,438.38 146.8,440.25 149.2,439.00 151.8,437.75 154.9,437.38 156.8,438.62 159.9,444.25 162.4,444.62 164.5,448.25 166.8,448.25 169.2,447.38 171.8,446.12 174.0,443.38 176.1,443.25 178.0,444.00 180.5,445.00 183.0,444.25 185.5,443.38 188.0,440.25 190.2,438.00 192.4,439.25 194.2,438.38 196.8,439.00 199.2,439.62 201.1,440.50 203.0,441.50 205.5,439.25 208.0,439.00 210.5,438.00 212.4,436.12 214.2,430.50 215.5,436.75 217.0,444.25 219.2,441.75 221.8,439.25 224.2,437.75 226.8,437.38 229.2,437.75 233.0,438.62 236.8,438.00 239.9,437.75 243.0,438.62 246.1,440.75 248.6,442.38 251.1,440.75 253.6,438.62 256.0,436.50 259.8,437.00 262.2,441.12 264.5,443.62 266.6,441.12 269.1,436.75 271.6,436.50 274.1,437.38 276.6,435.75 279.8,434.50 282.9,434.50 285.4,436.50 287.2,438.00 289.8,436.12 292.2,434.25 294.1,433.62 296.2,435.25 298.5,438.00 301.0,440.50 303.2,442.00 304.8,441.50 307.2,444.62 309.5,441.50 311.6,442.75 313.8,442.38 316.0,443.00 318.5,444.25 321.0,443.00 324.1,443.25 327.2,444.50 329.8,443.62 332.2,443.00 334.8,441.50 337.2,441.50 339.1,444.88 341.6,447.38 343.5,447.00 346.0,445.50 348.5,447.00 350.4,449.25 352.5,446.50 354.8,447.00 357.2,448.25 359.5,449.25 361.6,444.00 363.8,445.50 366.0,443.00 368.5,443.00 371.0,444.25 373.5,444.50 375.4,447.00 377.5,448.25 379.8,446.50 381.6,445.50 384.0,445.50 388.4,445.88 390.9,445.25 393.4,448.25 395.9,450.88 398.4,451.12 400.2,451.75 402.1,447.75 404.6,443.62 407.1,440.75 409.6,439.00 412.1,439.88 415.2,438.38 417.8,437.00 420.2,436.50 421.5,439.25 422.8,443.62 425.2,446.12 427.8,447.38 431.5,447.38 434.0,448.25 436.5,446.75 439.0,445.50 440.9,446.75 443.4,448.25 445.2,444.88 447.8,443.38 451.5,443.00 454.6,444.25 456.5,442.38 458.4,441.12 460.9,442.38 463.4,443.62 465.9,444.50 468.4,444.25 470.2,440.75 472.8,438.38 475.2,437.75 477.8,436.75 479.6,437.38 482.1,434.88 484.6,432.38 486.5,431.50 489.0,433.38 491.5,434.25 494.6,434.25 497.1,436.50 499.6,439.00 502.1,441.75 504.0,439.50 506.5,440.25 508.8,437.38 510.2,439.88 512.0,440.50 516.4,440.75 518.2,441.50 520.1,441.50 522.6,444.50 525.1,443.62 527.6,443.38 529.5,444.50 532.0,443.00 533.9,440.75 535.8,440.50 538.2,442.75 540.5,444.25 542.6,443.00 545.1,439.50 547.6,439.25 550.1,440.25 553.2,441.75 555.8,444.50 558.2,447.38 560.8,449.00 562.6,446.75 564.5,444.50 567.6,444.50 570.1,444.50 572.0,443.62 574.5,447.75 576.4,450.50 578.9,445.50 582.0,445.25 584.5,443.62 586.4,442.00 588.2,443.00 590.8,440.50 594.5,440.50 597.6,440.25 599.5,437.75 602.0,439.00 604.5,440.50 607.6,440.25 610.1,437.38 612.6,436.50 615.1,438.00 617.6,440.25 620.1,439.25 623.2,440.50 625.8,443.25 627.6,446.75 628.9,450.25 630.8,442.38 633.2,444.00 637.0,443.25 640.0,441.50 645.0,441.75 648.8,441.75 651.9,441.75 654.4,444.25 656.9,446.75 660.0,448.25 662.5,444.50 665.0,446.75 668.1,446.50 671.2,448.25 674.4,448.25 676.2,447.38 678.5,450.50 680.6,444.00 683.1,442.38 685.6,440.75 688.1,439.88 690.6,438.62 693.8,436.50 696.2,436.75 698.1,435.75 701.2,438.62 703.8,437.75 706.2,438.62 708.1,437.38 711.2,437.75 713.8,438.62 716.2,440.75 718.8,442.38 721.9,446.12 725.0,446.12 728.8,446.12 730.2,445.50 732.5,448.62 735.0,452.75 737.5,451.75 739.4,451.12 741.9,448.62 743.8,447.38 746.2,448.38 748.8,448.38 751.2,446.75 753.5,444.88 755.6,447.38 757.5,449.50 760.0,450.25 762.5,451.12 764.4,448.62 766.2,449.25 768.8,449.88 771.2,447.38 773.8,447.38 776.2,444.88 778.1,443.62 780.0,442.75" fill="none" stroke="#1f5ace" stroke-width="0.75" stroke-linejoin="round"/>
</g>
<g id="lines" stroke="#1e8cf8" stroke-width="1.1" stroke-linecap="butt" fill="none">
<path d="M0 361.25L991 225.98"/>
<path d="M287.3 82.7L796.8 30.6"/>
<path d="M377.6 167.4L830.4 66.3"/>
<path d="M581.3 167.3H877.7" stroke-width="1.3"/>
</g>
<g id="arrows" fill="none" stroke-linecap="round" stroke-linejoin="round">
<path d="M793.6 58.3L812.9 16.6" stroke="#ffffff" stroke-width="1.5"/>
<path d="M809.2 18.8L813.7 14.8L813.8 22.6L812.3 18.6z" stroke="#ffffff" stroke-width="1.2" fill="#ffffff"/>
<path d="M788.2 79.8L809.6 150.6" stroke="#f01c26" stroke-width="1.5"/>
<path d="M804.2 147L810 151.8L811 143.6L808.6 147.4z" stroke="#f01c26" stroke-width="1.2" fill="#f01c26"/>
</g>
<path d="M781.4 0H784.8L783.1 2.2z" fill="#9aa0aa"/>
<rect x="841" y="37.2" width="1.8" height="1.6" fill="#000"/>
<defs>
<linearGradient id="sg1" x1="0" y1="0" x2="0" y2="1"><stop offset="0" stop-color="#828a9b"/><stop offset="0.3" stop-color="#a8aebb"/><stop offset="0.6" stop-color="#989fae"/><stop offset="1" stop-color="#6a7385"/></linearGradient>
<linearGradient id="sg2" x1="0" y1="0" x2="0" y2="1"><stop offset="0" stop-color="#7d8596"/><stop offset="0.3" stop-color="#98a0ae"/><stop offset="0.7" stop-color="#8b93a3"/><stop offset="1" stop-color="#6a7385"/></linearGradient>
</defs>
<g id="frame">
<rect x="0" y="365.8" width="991.6" height="3" fill="url(#sg1)"/>
<rect x="0" y="418.8" width="991.6" height="3.2" fill="url(#sg2)"/>
<rect x="990.8" y="0" width="1.4" height="466" fill="#b4bac6"/>
</g>
<g id="axis" font-family="'Liberation Sans', sans-serif" font-size="8" fill="#dfe2e8">
<rect x="992" y="22.65" width="1.3" height="0.7" fill="#b4bac6"/>
<text x="995.3" y="25.8" textLength="25.7" lengthAdjust="spacingAndGlyphs">1952.80</text>
<rect x="992" y="50.65" width="1.3" height="0.7" fill="#b4bac6"/>
<text x="995.3" y="53.8" textLength="25.7" lengthAdjust="spacingAndGlyphs">1941.60</text>
<rect x="992" y="105.65" width="1.3" height="0.7" fill="#b4bac6"/>
<text x="995.3" y="108.8" textLength="25.7" lengthAdjust="spacingAndGlyphs">1919.40</text>
<rect x="992" y="133.65" width="1.3" height="0.7" fill="#b4bac6"/>
<text x="995.3" y="136.8" textLength="25.7" lengthAdjust="spacingAndGlyphs">1908.20</text>
<rect x="992" y="161.65" width="1.3" height="0.7" fill="#b4bac6"/>
<text x="995.3" y="164.8" textLength="25.7" lengthAdjust="spacingAndGlyphs">1897.00</text>
<rect x="992" y="189.65" width="1.3" height="0.7" fill="#b4bac6"/>
<text x="995.3" y="192.8" textLength="25.7" lengthAdjust="spacingAndGlyphs">1885.80</text>
<rect x="992" y="217.65" width="1.3" height="0.7" fill="#b4bac6"/>
<text x="995.3" y="220.8" textLength="25.7" lengthAdjust="spacingAndGlyphs">1874.60</text>
<rect x="992" y="245.15" width="1.3" height="0.7" fill="#b4bac6"/>
<text x="995.3" y="248.3" textLength="25.7" lengthAdjust="spacingAndGlyphs">1863.40</text>
<rect x="992" y="272.65" width="1.3" height="0.7" fill="#b4bac6"/>
<text x="995.3" y="275.8" textLength="25.7" lengthAdjust="spacingAndGlyphs">1852.40</text>
<rect x="992" y="300.65" width="1.3" height="0.7" fill="#b4bac6"/>
<text x="995.3" y="303.8" textLength="25.7" lengthAdjust="spacingAndGlyphs">1841.20</text>
<rect x="992" y="328.15" width="1.3" height="0.7" fill="#b4bac6"/>
<text x="995.3" y="331.3" textLength="25.7" lengthAdjust="spacingAndGlyphs">1830.00</text>
<rect x="992" y="355.65" width="1.3" height="0.7" fill="#b4bac6"/>
<text x="995.3" y="358.8" textLength="25.7" lengthAdjust="spacingAndGlyphs">1818.80</text>
<text x="993.7" y="375.9" textLength="21.6" lengthAdjust="spacingAndGlyphs">10.053</text>
<text x="994.2" y="404.0" textLength="13.4" lengthAdjust="spacingAndGlyphs">0.00</text>
<text x="993.6" y="418.2" textLength="19.9" lengthAdjust="spacingAndGlyphs">-5.654</text>
<text x="993.7" y="429.0" textLength="11.3" lengthAdjust="spacingAndGlyphs">100</text>
<text x="993.5" y="438.3" textLength="7.6" lengthAdjust="spacingAndGlyphs">70</text>
<text x="993.5" y="456.0" textLength="7.6" lengthAdjust="spacingAndGlyphs">30</text>
<text x="993.6" y="465.3" textLength="3.8" lengthAdjust="spacingAndGlyphs">0</text>
<rect x="992" y="400.8" width="1.3" height="0.7" fill="#b4bac6"/>
<rect x="992.2" y="73.1" width="31.8" height="7.7" fill="#ffffff"/>
<text x="995.5" y="79.8" textLength="25.5" lengthAdjust="spacingAndGlyphs" fill="#1c2a48">1931.08</text>
<text x="-0.6" y="7" textLength="3.2" lengthAdjust="spacingAndGlyphs">1</text>
<text x="8" y="7" textLength="26" lengthAdjust="spacingAndGlyphs">1930.20</text>
<text x="36.4" y="7" textLength="25.8" lengthAdjust="spacingAndGlyphs">1931.14</text>
<text x="64.8" y="7" textLength="25.6" lengthAdjust="spacingAndGlyphs">1930.06</text>
<text x="93" y="7" textLength="25.6" lengthAdjust="spacingAndGlyphs">1931.08</text>
<text x="-1" y="377" textLength="53" lengthAdjust="spacingAndGlyphs">9) -1.788 -2.982</text>
<text x="-0.4" y="430.4" textLength="11.2" lengthAdjust="spacingAndGlyphs">206</text>
</g>
<g id="labels" font-family="'Liberation Sans', sans-serif" font-weight="bold" fill="#1e8cf8" stroke="#1e8cf8" stroke-width="0.25" font-size="8">
<text x="798.8" y="9.9" textLength="32.2" lengthAdjust="spacingAndGlyphs">1955-59</text>
<text x="772.3" y="71.9" textLength="19.6" lengthAdjust="spacingAndGlyphs">1935</text>
<text x="778" y="175.8" textLength="32" lengthAdjust="spacingAndGlyphs">1892-95</text>
<text x="796.3" y="261" textLength="19.3" lengthAdjust="spacingAndGlyphs">1865</text>
</g>
<g id="title" font-family="'Liberation Sans', sans-serif" font-weight="bold" fill="#ffffff" stroke="#ffffff" stroke-width="0.5" font-size="12.6">
<text x="202.5" y="26.9" textLength="39.5" lengthAdjust="spacingAndGlyphs">GOLD</text>
<text x="189.6" y="49.5" textLength="61.6" lengthAdjust="spacingAndGlyphs">H1 Chart</text>
</g>
</svg>
</body>
</html>
